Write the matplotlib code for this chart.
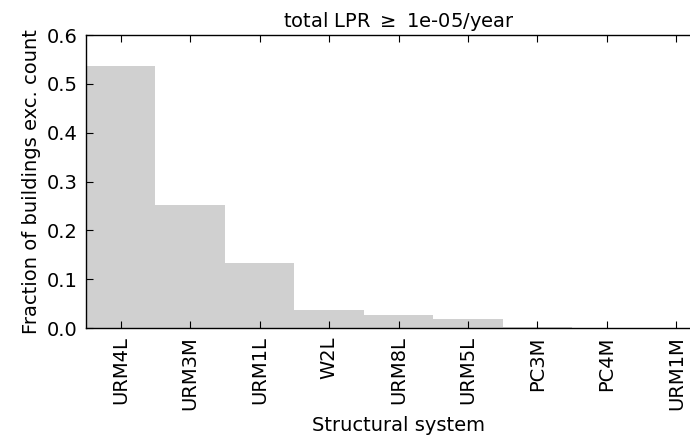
import numpy as np
import matplotlib
matplotlib.use("Agg")
import matplotlib.pyplot as plt

# structural systems and fraction of buildings exceeding the LPR threshold
systems = ["URM4L", "URM3M", "URM1L", "W2L", "URM8L", "URM5L", "PC3M", "PC4M", "URM1M"]
fractions = [0.537, 0.252, 0.133, 0.037, 0.027, 0.018, 0.003, 0.0005, 0.0]
threshold = "1e-05"

fig = plt.figure(figsize=(6.9, 4.38), dpi=100)
ax = fig.add_axes([0.1246, 0.251, 0.906, 0.669])

x = np.arange(len(systems))
ax.bar(x, fractions, width=1.0, color="#d0d0d0", edgecolor="none", align="center")

ax.set_xlim(-0.5, len(systems) - 0.5)
ax.set_ylim(0, 0.6)
ax.set_xticks(x)
ax.set_xticklabels(systems, rotation=90, fontsize=14)
ax.set_yticks(np.arange(0, 0.61, 0.1))
ax.set_yticklabels(["%.1f" % v for v in np.arange(0, 0.61, 0.1)], fontsize=14)
ax.tick_params(direction="in", top=True, right=False, length=5, width=0.8, pad=6)

for side in ["top", "bottom", "left"]:
    ax.spines[side].set_linewidth(1.0)
ax.spines["right"].set_visible(False)

ax.set_xlabel("Structural system", fontsize=14)
ax.set_ylabel("Fraction of buildings exc. count", fontsize=14)
ax.set_title(r"total LPR $\geq$ " + threshold + "/year", fontsize=14)

fig.savefig("out.png", dpi=100)
